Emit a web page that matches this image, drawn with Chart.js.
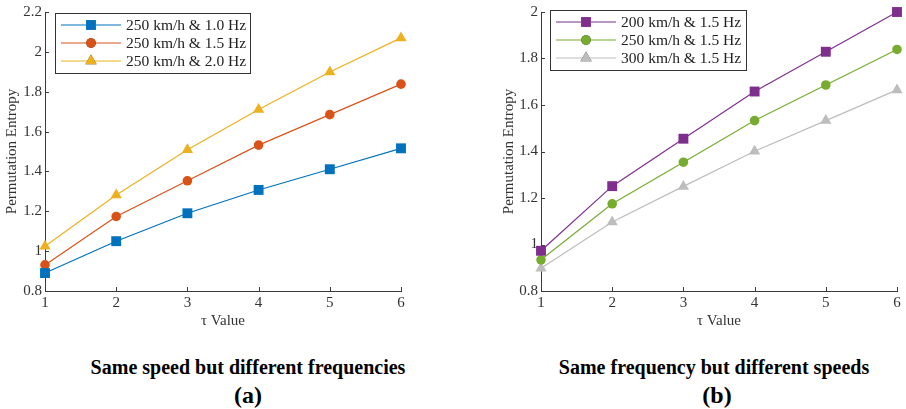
<!DOCTYPE html>
<html>
<head>
<meta charset="utf-8">
<script src="https://cdn.jsdelivr.net/npm/chart.js@4/dist/chart.umd.min.js"></script>
<style>
  html, body { margin: 0; padding: 0; background: #fff; }
  body { width: 906px; height: 409px; position: relative; overflow: hidden; font-family: "Liberation Serif", "Times New Roman", "DejaVu Serif", serif; }
  .box { position: absolute; top: 0; height: 335px; }
  .cap { position: absolute; width: 440px; text-align: center; font-weight: bold; font-size: 20px; color: #000; line-height: 28px; }
  .lbl { position: absolute; width: 440px; text-align: center; font-weight: bold; font-size: 24px; color: #000; line-height: 28px; }
</style>
</head>
<body>
<div class="box" style="left:0;width:453px"><canvas id="chartA"></canvas></div>
<div class="box" style="left:497px;width:409px"><canvas id="chartB"></canvas></div>
<div class="cap" style="left:28px;top:353px">Same speed but different frequencies</div>
<div class="lbl" style="left:28px;top:381px">(a)</div>
<div class="cap" style="left:494px;top:353px">Same frequency but different speeds</div>
<div class="lbl" style="left:497px;top:381px">(b)</div>
<script>
// tau values on the x axis
const tauValues = [1, 2, 3, 4, 5, 6];

// (a) same speed, different frequencies
const freqLabels = ['250 km/h & 1.0 Hz', '250 km/h & 1.5 Hz', '250 km/h & 2.0 Hz'];
const pe250_10 = [0.89, 1.05, 1.19, 1.307, 1.411, 1.516];
const pe250_15 = [0.931, 1.174, 1.353, 1.532, 1.685, 1.838];
const pe250_20 = [1.024, 1.282, 1.509, 1.711, 1.899, 2.07];

// (b) same frequency, different speeds
const speedLabels = ['200 km/h & 1.5 Hz', '250 km/h & 1.5 Hz', '300 km/h & 1.5 Hz'];
const pe200_15 = [0.973, 1.251, 1.455, 1.658, 1.829, 2.0];
const pe250b_15 = [0.934, 1.175, 1.354, 1.533, 1.686, 1.839];
const pe300_15 = [0.898, 1.097, 1.25, 1.401, 1.533, 1.665];

const yTicksA = [0.8, 1.0, 1.2, 1.4, 1.6, 1.8, 2.0, 2.2];
const yTicksB = [0.8, 1.0, 1.2, 1.4, 1.6, 1.8, 2.0];

const FONT = '"Liberation Serif", "Times New Roman", "DejaVu Serif", serif';
const AXIS = '#3a3a3a';

function pts(ys) {
  return tauValues.map((t, i) => ({ x: t, y: ys[i] }));
}

function ds(label, ys, color, style) {
  const r = style === 'rect' ? 7 : (style === 'triangle' ? 6.5 : 4.8);
  return {
    label: label,
    data: pts(ys),
    borderColor: color,
    backgroundColor: color,
    borderWidth: 1.2,
    pointStyle: style,
    pointRadius: r,
    pointHoverRadius: r,
    pointBorderWidth: 0,
    clip: false,
    tension: 0
  };
}

// inward tick marks, MATLAB style
const inwardTicks = {
  id: 'inwardTicks',
  beforeDatasetsDraw(chart) {
    const ctx = chart.ctx;
    const a = chart.chartArea;
    ctx.save();
    ctx.strokeStyle = AXIS;
    ctx.lineWidth = 1;
    ctx.beginPath();
    chart.scales.x.ticks.forEach(t => {
      const px = Math.round(chart.scales.x.getPixelForValue(t.value)) + 0.5;
      ctx.moveTo(px, a.bottom);
      ctx.lineTo(px, a.bottom - 4);
    });
    chart.scales.y.ticks.forEach(t => {
      const py = Math.round(chart.scales.y.getPixelForValue(t.value)) + 0.5;
      ctx.moveTo(a.left, py);
      ctx.lineTo(a.left + 4, py);
    });
    ctx.stroke();
    ctx.restore();
  }
};

// boxed legend with line + marker
const boxLegend = {
  id: 'boxLegend',
  afterDatasetsDraw(chart, args, opts) {
    const ctx = chart.ctx;
    const a = chart.chartArea;
    const x0 = a.left + opts.dx, y0 = a.top + opts.dy;
    const w = opts.w, rowH = 18;
    const h = rowH * chart.data.datasets.length + 6;
    ctx.save();
    ctx.fillStyle = '#fff';
    ctx.fillRect(x0, y0, w, h);
    ctx.strokeStyle = '#333';
    ctx.lineWidth = 1;
    ctx.strokeRect(x0 + 0.5, y0 + 0.5, w, h);
    ctx.font = '15.5px ' + FONT;
    ctx.textBaseline = 'middle';
    chart.data.datasets.forEach((d, i) => {
      const cy = y0 + 12 + i * rowH;
      ctx.strokeStyle = d.borderColor;
      ctx.lineWidth = 1.2;
      ctx.beginPath();
      ctx.moveTo(x0 + 6, cy);
      ctx.lineTo(x0 + 66, cy);
      ctx.stroke();
      Chart.helpers.drawPoint(ctx, {
        pointStyle: d.pointStyle, radius: d.pointRadius, borderWidth: 0, rotation: 0
      }, x0 + 36, cy);
      ctx.fillStyle = d.backgroundColor;
      ctx.fill();
      ctx.fillStyle = '#222';
      ctx.fillText(d.label, x0 + 71, cy + 1);
    });
    ctx.restore();
  }
};

function makeChart(id, datasets, yMax, yWidth, padRight, legendPos) {
  return new Chart(document.getElementById(id), {
    type: 'line',
    data: { datasets: datasets },
    plugins: [inwardTicks, boxLegend],
    options: {
      responsive: true,
      maintainAspectRatio: false,
      animation: false,
      layout: { padding: { top: 10, right: padRight, bottom: 0, left: 0 } },
      plugins: {
        legend: { display: false },
        tooltip: { enabled: false },
        boxLegend: legendPos
      },
      scales: {
        x: {
          type: 'linear',
          min: 1, max: 6,
          ticks: { stepSize: 1, color: '#333', font: { family: FONT, size: 15 }, padding: 3 },
          grid: { display: false, drawTicks: false },
          border: { display: true, color: AXIS, width: 1 },
          title: { display: true, text: 'τ Value', color: '#333', font: { family: FONT, size: 15 }, padding: { top: 0, bottom: 5 } },
          afterFit(s) { s.height = 44; }
        },
        y: {
          min: 0.8, max: yMax,
          afterBuildTicks(s) { s.ticks = (yMax > 2.1 ? yTicksA : yTicksB).map(v => ({ value: v })); },
          ticks: {
            color: '#333', font: { family: FONT, size: 15 }, padding: 3,
            callback: v => String(+v.toFixed(1))
          },
          grid: { display: false, drawTicks: false },
          border: { display: true, color: AXIS, width: 1 },
          title: { display: true, text: 'Permutation Entropy', color: '#333', font: { family: FONT, size: 15 }, padding: { top: 3, bottom: 0 } },
          afterFit(s) { s.width = yWidth; }
        }
      }
    }
  });
}

makeChart('chartA', [
  ds(freqLabels[0], pe250_10, '#0072BD', 'rect'),
  ds(freqLabels[1], pe250_15, '#D95319', 'circle'),
  ds(freqLabels[2], pe250_20, '#EDB120', 'triangle')
], 2.2, 45, 52, { dx: 10, dy: 1, w: 195 });

makeChart('chartB', [
  ds(speedLabels[0], pe200_15, '#7E2F8E', 'rect'),
  ds(speedLabels[1], pe250b_15, '#77AC30', 'circle'),
  ds(speedLabels[2], pe300_15, '#BDBDBD', 'triangle')
], 2.0, 44, 9, { dx: 9, dy: -2, w: 196 });
</script>
</body>
</html>
